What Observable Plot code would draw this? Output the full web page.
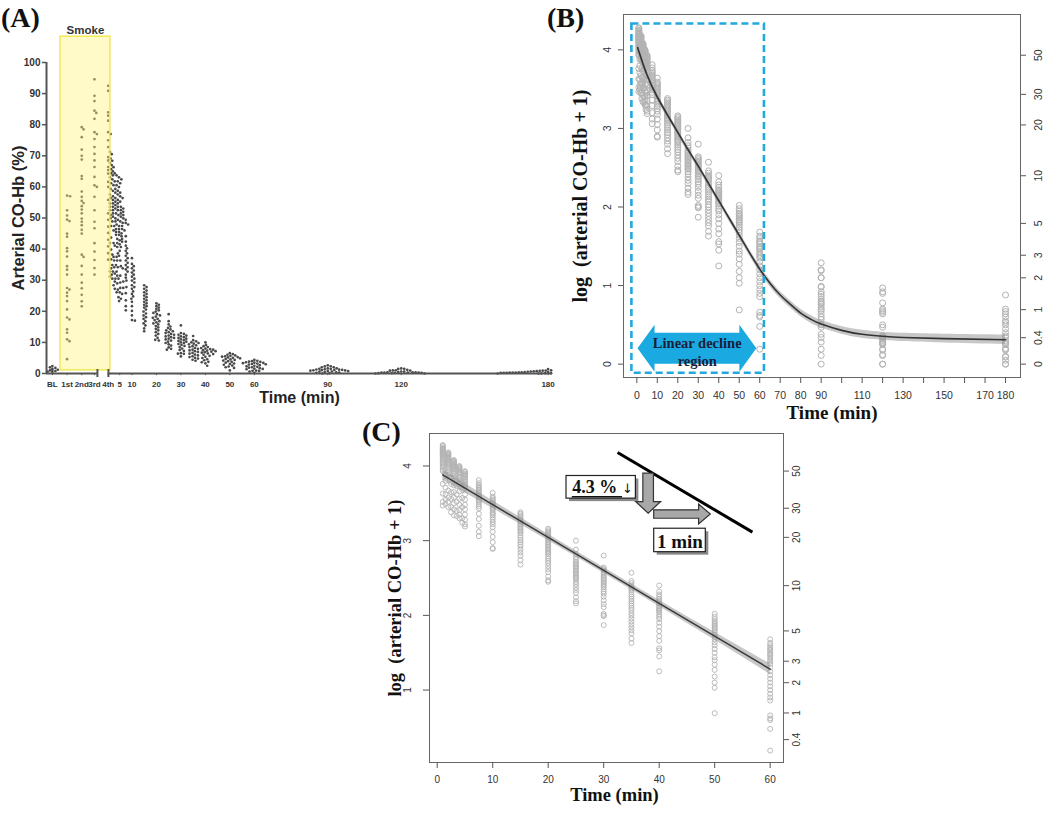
<!DOCTYPE html>
<html><head><meta charset="utf-8">
<script src="https://cdn.jsdelivr.net/npm/d3@7"></script>
<script src="https://cdn.jsdelivr.net/npm/@observablehq/plot@0.6"></script>
<style>
body{margin:0;background:#fff;}
#root{position:relative;width:1050px;height:813px;overflow:hidden;background:#fff}
.panel{position:absolute}
.tag{position:absolute;font-family:"Liberation Serif","Times New Roman",serif;font-weight:bold;font-size:28px;line-height:28px;color:#111}
</style></head><body><div id="root"></div>
<script>
// ---------------- DATA ----------------
// Panel A smoke-phase columns (arterial CO-Hb, %)
const smokeLabels = ["BL", "1st", "2nd", "3rd", "4th"];
const smokeSlots = [-22.5, -16.5, -10.5, -5.3, 0.3];
const smokeValues = [
  [0.5, 0.8, 1.0, 1.2, 1.5, 1.8, 2.0, 2.4, 0.6, 1.1],
  [57.2, 57.0, 52.5, 50.8, 49.5, 49.0, 45.0, 44.0, 40.3, 39.3, 37.6, 34.5, 33.4, 31.8, 27.5, 27.0, 26.0, 24.9, 23.3, 20.6, 18.0, 17.4, 14.2, 13.1, 11.0, 10.4, 4.6],
  [79.2, 78.5, 76.0, 72.0, 70.0, 68.8, 63.5, 62.6, 58.5, 56.8, 55.5, 54.8, 53.8, 52.7, 51.5, 49.8, 48.8, 47.7, 46.2, 45.0, 38.2, 37.5, 34.6, 31.8, 29.2, 27.4, 25.3, 23.2, 21.6],
  [94.6, 89.3, 87.6, 84.5, 83.8, 81.9, 77.6, 77.0, 75.4, 72.8, 70.6, 68.5, 66.4, 63.2, 60.5, 60.0, 56.8, 52.5, 48.8, 46.7, 41.9, 39.2, 36.5, 33.9, 31.8],
  [92.5, 90.9, 84.0, 82.9, 81.3, 77.6, 77.0, 75.0, 72.8, 69.6, 68.5, 66.4, 65.4, 64.3, 61.6, 60.0, 55.8, 51.5, 49.4, 47.2, 45.2, 43.0, 40.9, 38.7, 36.6]
];
// Post-smoke sampling times (min) and log(CO-Hb + 1) values
const postTimes = [1, 1.5, 2, 2.5, 3, 3.5, 4, 4.5, 5, 7.5, 10, 15, 20, 25, 30, 35, 40, 50, 60, 90, 120, 180];
const postLogValues = [
  [4.28,4.27,4.25,4.24,4.23,4.22,4.21,4.2,4.19,4.18,4.17,4.16,4.15,4.14,4.13,4.12,4.1,4.09,4.07,4.05,4.04,4.02,4.0,3.98,3.95,3.93,3.76,3.63,3.52,3.47],
  [3.88,3.8,3.71,3.62,3.55,3.49],
  [4.18,4.17,4.16,4.15,4.14,4.13,4.12,4.11,4.1,4.09,4.08,4.06,4.05,4.03,4.02,4.0,3.98,3.96,3.94,3.91,3.88,3.67,3.58,3.52,3.45],
  [3.85,3.76,3.65,3.56,3.45,3.38],
  [4.08,4.07,4.06,4.05,4.04,4.03,4.02,4.01,4.0,3.99,3.98,3.96,3.95,3.93,3.91,3.89,3.86,3.84,3.74,3.65,3.58,3.5,3.42,3.34],
  [3.82,3.73,3.62,3.52,3.4,3.33],
  [4.0,3.99,3.98,3.97,3.96,3.95,3.94,3.92,3.91,3.9,3.88,3.86,3.84,3.82,3.79,3.76,3.66,3.56,3.48,3.41,3.35,3.3],
  [3.78,3.68,3.57,3.45,3.3,3.24],
  [3.93,3.92,3.9,3.89,3.88,3.86,3.85,3.83,3.81,3.79,3.77,3.75,3.73,3.7,3.62,3.55,3.48,3.42,3.35,3.28,3.22,3.19],
  [3.81,3.77,3.74,3.72,3.7,3.68,3.66,3.64,3.62,3.6,3.58,3.56,3.54,3.52,3.49,3.46,3.43,3.36,3.29,3.2,3.12,3.06],
  [3.64,3.59,3.57,3.55,3.53,3.51,3.49,3.47,3.45,3.43,3.41,3.38,3.36,3.34,3.31,3.28,3.25,3.22,3.18,3.12,3.05,2.98,2.9,2.89],
  [3.38,3.36,3.34,3.32,3.3,3.28,3.26,3.24,3.22,3.2,3.18,3.16,3.14,3.12,3.1,3.07,3.04,3.01,2.98,2.95,2.92,2.88,2.84,2.8,2.74,2.68],
  [3.16,3.14,3.12,3.1,3.08,3.06,3.04,3.02,3.0,2.98,2.96,2.94,2.92,2.9,2.88,2.86,2.84,2.82,2.79,2.76,2.73,2.7,2.66,2.62,2.58,2.52,2.47,2.45],
  [3.0,2.88,2.82,2.78,2.75,2.72,2.7,2.68,2.66,2.64,2.62,2.6,2.58,2.56,2.54,2.52,2.5,2.48,2.45,2.42,2.38,2.34,2.3,2.24,2.19,2.16],
  [2.8,2.64,2.62,2.6,2.58,2.56,2.54,2.52,2.5,2.48,2.46,2.44,2.42,2.4,2.38,2.35,2.32,2.29,2.25,2.2,2.15,2.11,2.02,2.0,1.99,1.87],
  [2.57,2.46,2.43,2.4,2.38,2.36,2.34,2.31,2.28,2.25,2.22,2.19,2.16,2.13,2.1,2.07,2.03,2.0,1.96,1.92,1.88,1.84,1.8,1.76,1.69,1.63],
  [2.4,2.32,2.28,2.25,2.22,2.2,2.18,2.16,2.14,2.12,2.1,2.08,2.06,2.04,2.01,1.98,1.95,1.9,1.85,1.79,1.72,1.66,1.56,1.53,1.45,1.25],
  [2.02,1.98,1.95,1.92,1.9,1.88,1.86,1.84,1.82,1.8,1.77,1.74,1.71,1.68,1.64,1.6,1.55,1.5,1.44,1.4,1.34,1.27,1.18,1.1,1.03,0.69],
  [1.68,1.63,1.6,1.57,1.55,1.53,1.5,1.48,1.46,1.43,1.4,1.38,1.35,1.3,1.25,1.2,1.15,1.1,1.05,1.0,0.95,0.9,0.86,0.66,0.62,0.6,0.48,0.19],
  [1.29,1.2,1.19,1.1,1.1,0.99,0.98,0.92,0.89,0.86,0.83,0.8,0.78,0.76,0.73,0.7,0.68,0.64,0.6,0.57,0.5,0.47,0.38,0.34,0.28,0.19,0.11,0.0],
  [0.97,0.92,0.9,0.78,0.7,0.68,0.66,0.64,0.5,0.47,0.36,0.34,0.32,0.3,0.28,0.27,0.26,0.25,0.19,0.18,0.12,0.11,0.0,0.0],
  [0.88,0.7,0.67,0.64,0.6,0.55,0.53,0.5,0.45,0.4,0.36,0.34,0.3,0.28,0.26,0.25,0.2,0.19,0.18,0.1,0.09,0.05,0.0,0.0]
];
// Panel B fitted curve (log scale) with confidence half-width
const curveTimesB = [0.5, 1, 5, 10, 15, 20, 25, 30, 35, 40, 45, 50, 55, 60, 65, 70, 75, 80, 85, 90, 100, 110, 120, 130, 150, 180];
const curveFitB =   [4.02, 3.98, 3.68, 3.4, 3.17, 2.95, 2.73, 2.52, 2.3, 2.08, 1.86, 1.64, 1.42, 1.21, 1.03, 0.88, 0.76, 0.65, 0.57, 0.51, 0.43, 0.38, 0.355, 0.34, 0.325, 0.31];
const curveHalfB =  [0.06, 0.055, 0.045, 0.04, 0.038, 0.036, 0.035, 0.035, 0.035, 0.036, 0.037, 0.038, 0.04, 0.042, 0.044, 0.046, 0.047, 0.048, 0.048, 0.048, 0.048, 0.05, 0.05, 0.052, 0.055, 0.06];
// Panel C linear fit (log scale) with confidence half-width
const fitTimesC = [1, 10, 20, 30, 40, 50, 60];
const fitValuesC = [3.88, 3.483, 3.043, 2.602, 2.161, 1.721, 1.28];
const fitHalfC = [0.07, 0.052, 0.042, 0.038, 0.042, 0.052, 0.07];
// Ticks
const yTicksA = [0, 10, 20, 30, 40, 50, 60, 70, 80, 90, 100];
const xTicksA = [5, 10, 20, 30, 40, 50, 60, 90, 120, 180];
const xTicksB = [0, 10, 20, 30, 40, 50, 60, 70, 80, 90, 100, 110, 120, 130, 140, 150, 160, 170, 180];
const xUnlabeledB = [100, 120, 140, 160];
const xTicksC = [0, 10, 20, 30, 40, 50, 60];
const yTicksLog = [0, 1, 2, 3, 4];
const rightTicksPct = [50, 30, 20, 10, 5, 3, 2, 1, 0.4, 0];
// Annotations (data units)
const smokeBand = {start: -19.2, end: 1.2, bottom: 1.0, top: 108.3};
const axisBreakA = [-4.1, 0.4];
const linearBox = {t1: -2.4, t2: 62.3, v1: -0.115, v2: 4.33};
const blueArrow = {t1: 0.6, t2: 58.6, v: 0.195};
const blueArrowText = {t: 29.5, v: 0.17, text: "Linear decline\nregion"};
const slopeLine = {t1: 32.5, v1: 4.18, t2: 56.8, v2: 3.115};
const dropBox = {t1: 23.3, t2: 35.8, v1: 3.563, v2: 3.866};
const minuteBox = {t1: 39.1, t2: 48.4, v1: 2.846, v2: 3.16};
const downArrow = {t: 38.1, top: 3.898, tip: 3.362};
const rightArrow = {t1: 39.1, t2: 49.3, v: 3.35};

// ---------------- HELPERS ----------------
const SANS = "Liberation Sans, Arial, sans-serif";
const SERIF = "Liberation Serif, Times New Roman, serif";
const root = document.getElementById("root");
function place(node, left, top) {
  node.classList.add("panel");
  node.style.left = left + "px"; node.style.top = top + "px";
  root.appendChild(node);
}
function tag(text, left, top) {
  const d = document.createElement("div");
  d.className = "tag"; d.textContent = text;
  d.style.left = left + "px"; d.style.top = top + "px";
  root.appendChild(d);
}
function pathMark(build, attrs) {
  return (index, scales) => {
    const p = document.createElementNS("http://www.w3.org/2000/svg", "path");
    p.setAttribute("d", build(scales.x, scales.y));
    for (const k in attrs) p.setAttribute(k, attrs[k]);
    return p;
  };
}
const MID = {textAnchor: "middle", lineAnchor: "middle"};

// ---------------- PANEL A ----------------
const xDomainA = [-24.9, 181.8];
const WA = 560, HA = 410, mLA = 46, mRA = 8, mTA = 62, mBA = 37;
const sxA = Plot.scale({x: {domain: xDomainA, range: [mLA, WA - mRA]}});
const syA = Plot.scale({y: {domain: [0, 100], range: [HA - mBA, mTA]}});
const aPoints = [];
smokeValues.forEach((vals, i) => vals.forEach(v => aPoints.push({t: smokeSlots[i], v, smoke: true})));
postTimes.forEach((t, i) => postLogValues[i].forEach(lv => aPoints.push({t, v: Math.expm1(lv), smoke: false})));
// deterministic beeswarm layout (horizontal collision avoidance)
(function swarm(points) {
  const placed = [], R = 2.7;
  const minPost = sxA.apply(0.8), maxX = WA - mRA - 1;
  for (const p of points) {
    const px = sxA.apply(p.t), py = syA.apply(p.v);
    const lo = p.smoke ? px - 7 : minPost, hi = p.smoke ? px + 7 : maxX;
    let best = Math.min(Math.max(px, lo), hi);
    for (let k = 0; k < 600; k++) {
      const off = (k % 2 ? 1 : -1) * Math.ceil(k / 2) * 0.6;
      const cx = px + off;
      if (cx < lo || cx > hi) continue;
      let ok = true;
      for (const q of placed) { const dx = q.x - cx, dy = q.y - py; if (dx * dx + dy * dy < R * R) { ok = false; break; } }
      if (ok) { best = cx; break; }
    }
    placed.push({x: best, y: py});
    p.tx = sxA.invert(best);
  }
})(aPoints);
const xLabelsA = smokeLabels.map((l, i) => ({t: smokeSlots[i], label: l}))
  .concat(xTicksA.map(t => ({t, label: String(t)})));
const axisSegA = [{from: xDomainA[0], to: axisBreakA[0]}, {from: axisBreakA[1], to: xDomainA[1]}];

const plotA = Plot.plot({
  width: WA, height: HA, marginLeft: mLA, marginRight: mRA, marginTop: mTA, marginBottom: mBA,
  style: {fontFamily: SANS, background: "transparent", overflow: "visible"},
  x: {domain: xDomainA, axis: null},
  y: {domain: [0, 100], axis: null},
  marks: [
    Plot.dot(aPoints, {x: "tx", y: "v", r: 1.35, fill: "#4a4a4a", stroke: "none"}),
    Plot.rect([smokeBand], {x1: "start", x2: "end", y1: "bottom", y2: "top", fill: "#fff27a", fillOpacity: 0.42, stroke: "#f1e84a", strokeWidth: 1.4}),
    Plot.text(["Smoke"], {x: () => (smokeBand.start + smokeBand.end) / 2, y: () => smokeBand.top, text: d => d, dy: -3, lineAnchor: "bottom", fontSize: 11.5, fontWeight: "bold", fill: "#333"}),
    Plot.ruleX([xDomainA[0]], {y1: 0, y2: 100, stroke: "#555", strokeWidth: 2}),
    Plot.axisY(yTicksA, {anchor: "left", tickSize: 4, tickPadding: 2, fontSize: 10, fontWeight: "bold", stroke: "#555", strokeWidth: 1.5, fill: "#333"}),
    Plot.ruleY(axisSegA, {y: () => 0, x1: "from", x2: "to", stroke: "#555", strokeWidth: 2}),
    Plot.ruleX(axisBreakA, {y1: -1.3, y2: 1.3, stroke: "#555", strokeWidth: 2}),
    Plot.ruleX(xLabelsA, {x: "t", y1: 0, y2: -0.7, stroke: "#555", strokeWidth: 1}),
    Plot.text(xLabelsA, {x: "t", text: "label", frameAnchor: "bottom", dy: 11, ...MID, fontSize: 8, fontWeight: "bold", fill: "#333"}),
    Plot.text(["Arterial CO-Hb (%)"], {frameAnchor: "left", text: d => d, rotate: -90, dx: -28, ...MID, fontSize: 16.5, fontWeight: "bold", fill: "#222"}),
    Plot.text(["Time (min)"], {frameAnchor: "bottom", text: d => d, dy: 24, ...MID, fontSize: 16, fontWeight: "bold", fill: "#222"})
  ]
});
place(plotA, 0, 0);
tag("(A)", 1, 4);

// ---------------- PANEL B ----------------
const logPoints = [];
postTimes.forEach((t, i) => postLogValues[i].forEach(lv => logPoints.push({t, lv})));
const curveB = curveTimesB.map((t, i) => ({t, fit: curveFitB[i], lo: curveFitB[i] - curveHalfB[i], hi: curveFitB[i] + curveHalfB[i]}));

const plotB = Plot.plot({
  width: 510, height: 425, marginLeft: 83, marginRight: 30, marginTop: 14, marginBottom: 48,
  style: {fontFamily: SANS, background: "transparent", overflow: "visible"},
  x: {domain: [-6.5, 187.3], axis: null},
  y: {domain: [-0.17, 4.45], axis: null},
  marks: [
    Plot.dot(logPoints, {x: "t", y: "lv", r: 3, stroke: "#b3b3b3", strokeWidth: 1, fill: "none"}),
    Plot.areaY(curveB, {x: "t", y1: "lo", y2: "hi", fill: "#8f8f8f", fillOpacity: 0.5, curve: "natural"}),
    Plot.line(curveB, {x: "t", y: "fit", stroke: "#333", strokeWidth: 1.6, curve: "natural"}),
    Plot.rect([linearBox], {x1: "t1", x2: "t2", y1: "v1", y2: "v2", fill: "none", stroke: "#22a8df", strokeWidth: 2.6, strokeDasharray: "7,4"}),
    pathMark((x, y) => {
      const x0 = x(blueArrow.t1), x1 = x(blueArrow.t2), yc = y(blueArrow.v);
      const hl = 17, hh = 23.5, hb = 15.5;
      return `M${x0},${yc}L${x0 + hl},${yc - hh}L${x0 + hl},${yc - hb}L${x1 - hl},${yc - hb}L${x1 - hl},${yc - hh}L${x1},${yc}L${x1 - hl},${yc + hh}L${x1 - hl},${yc + hb}L${x0 + hl},${yc + hb}L${x0 + hl},${yc + hh}Z`;
    }, {fill: "#1aa9e1", stroke: "none"}),
    Plot.text([blueArrowText], {x: "t", y: "v", text: "text", fontFamily: SERIF, fontWeight: "bold", fontSize: 14.5, lineHeight: 1.25, fill: "#1b1d3c"}),
    Plot.frame({stroke: "#666", strokeWidth: 1}),
    Plot.axisX(xTicksB, {anchor: "bottom", tickSize: 6, fill: "none", stroke: "#555"}),
    Plot.text(xTicksB, {x: d => d, text: d => xUnlabeledB.includes(d) ? "" : String(d), frameAnchor: "bottom", dy: 18, ...MID, fontSize: 10.5, fill: "#333"}),
    Plot.axisY(yTicksLog, {anchor: "left", tickSize: 5, fill: "none", stroke: "#555"}),
    Plot.text(yTicksLog, {y: d => d, text: d => String(d), frameAnchor: "left", dx: -16, rotate: -90, ...MID, fontSize: 10.5, fill: "#333"}),
    Plot.axisY(rightTicksPct.map(Math.log1p), {anchor: "right", tickSize: 5, fill: "none", stroke: "#555"}),
    Plot.text(rightTicksPct, {y: d => Math.log1p(d), text: d => String(d), frameAnchor: "right", dx: 18, rotate: -90, ...MID, fontSize: 10.5, fill: "#333"}),
    Plot.text(["log  (arterial CO-Hb + 1)"], {frameAnchor: "left", text: d => d, rotate: -90, dx: -43, ...MID, fontFamily: SERIF, fontWeight: "bold", fontSize: 20, fill: "#111"}),
    Plot.text(["Time (min)"], {frameAnchor: "bottom", text: d => d, dy: 35, dx: 10, ...MID, fontFamily: SERIF, fontWeight: "bold", fontSize: 19, fill: "#111"})
  ]
});
place(plotB, 540, 0);
tag("(B)", 547, 4);

// ---------------- PANEL C ----------------
const cDomainY = [0.03, 4.435];
const logPointsC = logPoints.filter(d => d.t <= 60);
const fitC = fitTimesC.map((t, i) => ({t, fit: fitValuesC[i], lo: fitValuesC[i] - fitHalfC[i], hi: fitValuesC[i] + fitHalfC[i]}));
const rightTicksC = rightTicksPct.filter(d => Math.log1p(d) >= cDomainY[0]);
const leftTicksC = yTicksLog.filter(d => d >= cDomainY[0]);

const plotC = Plot.plot({
  width: 450, height: 403, marginLeft: 69, marginRight: 27, marginTop: 23, marginBottom: 51,
  style: {fontFamily: SANS, background: "transparent", overflow: "visible"},
  x: {domain: [-1.39, 62.4], axis: null},
  y: {domain: cDomainY, axis: null},
  marks: [
    Plot.dot(logPointsC, {x: "t", y: "lv", r: 2.5, stroke: "#b3b3b3", strokeWidth: 0.9, fill: "none"}),
    Plot.areaY(fitC, {x: "t", y1: "lo", y2: "hi", fill: "#8f8f8f", fillOpacity: 0.5, curve: "natural"}),
    Plot.line(fitC, {x: "t", y: "fit", stroke: "#3a3a3a", strokeWidth: 1.5}),
    Plot.link([slopeLine], {x1: "t1", y1: "v1", x2: "t2", y2: "v2", stroke: "#000", strokeWidth: 3}),
    pathMark((x, y) => {
      const cx = x(downArrow.t), top = y(downArrow.top), tip = y(downArrow.tip);
      const bw = 5.3, hw = 12.5, hl = 11.6;
      return `M${cx - bw},${top}L${cx + bw},${top}L${cx + bw},${tip - hl}L${cx + hw},${tip - hl}L${cx},${tip}L${cx - hw},${tip - hl}L${cx - bw},${tip - hl}Z`;
    }, {fill: "#a8a8a8", stroke: "#333", "stroke-width": 1.2}),
    pathMark((x, y) => {
      const x0 = x(rightArrow.t1), x1 = x(rightArrow.t2), cy = y(rightArrow.v);
      const bh = 4.2, hh = 10, hl = 11.7;
      return `M${x0},${cy - bh}L${x1 - hl},${cy - bh}L${x1 - hl},${cy - hh}L${x1},${cy}L${x1 - hl},${cy + hh}L${x1 - hl},${cy + bh}L${x0},${cy + bh}Z`;
    }, {fill: "#a8a8a8", stroke: "#333", "stroke-width": 1.2}),
    Plot.rect([dropBox, minuteBox], {x1: "t1", x2: "t2", y1: "v1", y2: "v2", dx: 3, dy: 3, fill: "#8a8a8a"}),
    Plot.rect([dropBox, minuteBox], {x1: "t1", x2: "t2", y1: "v1", y2: "v2", fill: "#fff", stroke: "#222", strokeWidth: 1.2}),
    Plot.text(["4.3 %"], {x: () => 28.4, y: () => 3.714, text: d => d, fontFamily: SERIF, fontWeight: "bold", fontSize: 18, fill: "#111"}),
    Plot.ruleY([3.588], {x1: 24.35, x2: 33.4, stroke: "#111", strokeWidth: 1.4}),
    Plot.text(["\u2193"], {x: () => 34.3, y: () => 3.70, text: d => d, fontFamily: "DejaVu Sans", fontSize: 13, fill: "#111"}),
    Plot.text(["1 min"], {x: () => 43.73, y: () => 2.99, text: d => d, fontFamily: SERIF, fontWeight: "bold", fontSize: 19, fill: "#111"}),
    Plot.frame({stroke: "#666", strokeWidth: 1}),
    Plot.axisX(xTicksC, {anchor: "bottom", tickSize: 6, fill: "none", stroke: "#555"}),
    Plot.text(xTicksC, {x: d => d, text: d => String(d), frameAnchor: "bottom", dy: 17, ...MID, fontSize: 10, fill: "#333"}),
    Plot.axisY(leftTicksC, {anchor: "left", tickSize: 6, fill: "none", stroke: "#555"}),
    Plot.text(leftTicksC, {y: d => d, text: d => String(d), frameAnchor: "left", dx: -22, rotate: -90, ...MID, fontSize: 10, fill: "#333"}),
    Plot.axisY(rightTicksC.map(Math.log1p), {anchor: "right", tickSize: 5, fill: "none", stroke: "#555"}),
    Plot.text(rightTicksC, {y: d => Math.log1p(d), text: d => String(d), frameAnchor: "right", dx: 13, rotate: -90, ...MID, fontSize: 10, fill: "#333"}),
    Plot.text(["log  (arterial CO-Hb + 1)"], {frameAnchor: "left", text: d => d, rotate: -90, dx: -34, ...MID, fontFamily: SERIF, fontWeight: "bold", fontSize: 18.5, fill: "#111"}),
    Plot.text(["Time (min)"], {frameAnchor: "bottom", text: d => d, dy: 33, dx: 8, ...MID, fontFamily: SERIF, fontWeight: "bold", fontSize: 18.5, fill: "#111"})
  ]
});
place(plotC, 360, 410);
tag("(C)", 362, 418);
</script></body></html>
